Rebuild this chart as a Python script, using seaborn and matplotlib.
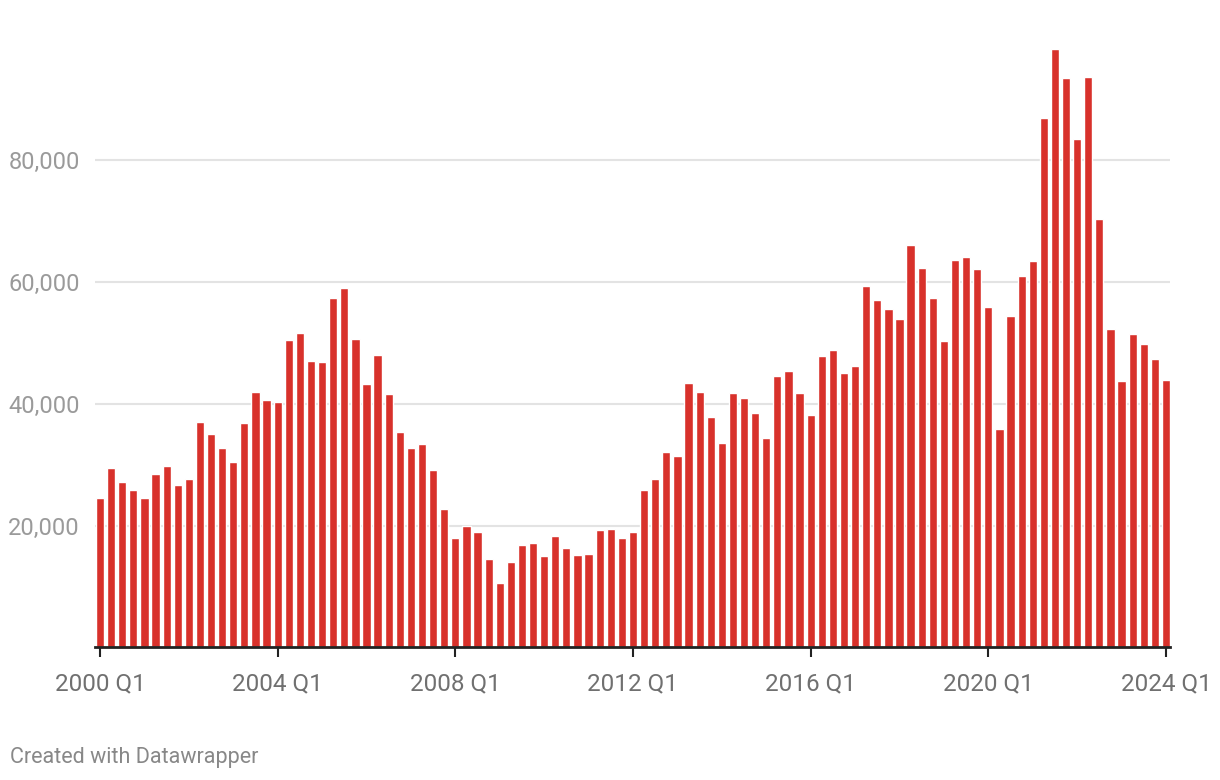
import matplotlib
matplotlib.use("Agg")
import matplotlib.pyplot as plt
import seaborn as sns
import pandas as pd

years = list(range(2000, 2025))
quarters = [f"{y} Q{q}" for y in years for q in range(1, 5)][:97]

values = [
    24500, 29440, 27140, 25830, 24500, 28460, 29770, 26650, 27640, 37000,
    35030, 32730, 30430, 36830, 41920, 40610, 40280, 50460, 51610, 47010,
    46850, 57360, 59000, 50620, 43240, 48000, 41590, 35350, 32730, 33380,
    29110, 22710, 17950, 19920, 18930, 14500, 10560, 14010, 16800, 17130,
    14990, 18280, 16310, 15160, 15320, 19260, 19430, 17950, 18930, 25830,
    27640, 32070, 31410, 43400, 41920, 37820, 33550, 41760, 40940, 38480,
    34370, 44550, 45370, 41760, 38150, 47840, 48820, 45040, 46190, 59330,
    57030, 55550, 53910, 66060, 62280, 57330, 50280, 63590, 64050, 62080,
    55880, 35850, 54370, 60960, 63400, 86990, 98320, 93450, 83430, 93580,
    70320, 52260, 43690, 51400, 49750, 47320, 43890,
]

ytick_values = [20000, 40000, 60000, 80000]
ytick_labels = ["20,000", "40,000", "60,000", "80,000"]
xtick_labels = ["2000 Q1", "2004 Q1", "2008 Q1", "2012 Q1", "2016 Q1", "2020 Q1", "2024 Q1"]

sns.set_theme(style="white")
plt.rcParams["font.family"] = ["Roboto", "DejaVu Sans"]

df = pd.DataFrame({"quarter": quarters, "value": values})

fig = plt.figure(figsize=(12.2, 7.8), dpi=100)
ax = fig.add_axes([95 / 1220, (780 - 647.3) / 780, (1170 - 95) / 1220, (647.3 - 38.3) / 780])

sns.barplot(data=df, x="quarter", y="value", color="#d8312b", saturation=1,
            width=0.74, ax=ax, zorder=3)

ax.set_ylim(0, 100000)
ax.set_xlim(-0.45, 96.36)

ax.set_yticks(ytick_values)
ax.set_yticklabels(ytick_labels)
for yv in ytick_values:
    ax.axhline(yv, color="#e3e3e3", linewidth=1.5, zorder=1)

xtick_pos = [quarters.index(l) for l in xtick_labels]
ax.set_xticks(xtick_pos)
ax.set_xticklabels(xtick_labels)

ax.set_xlabel("")
ax.set_ylabel("")

for s in ["top", "right", "left"]:
    ax.spines[s].set_visible(False)
ax.spines["bottom"].set_color("#222222")
ax.spines["bottom"].set_linewidth(2)
ax.spines["bottom"].set_zorder(4)

ax.tick_params(axis="x", which="major", length=7, width=1.5, color="#222222",
               pad=11, labelsize=17.5, labelcolor="#707070", bottom=True)
ax.tick_params(axis="y", which="major", length=0, pad=11, labelsize=17,
               labelcolor="#9a9a9a")

fig.text(10 / 1220, 1 - 757 / 780, "Created with Datawrapper", fontsize=15.5,
         color="#888888", ha="left", va="center")

fig.savefig("out.png", dpi=100)
